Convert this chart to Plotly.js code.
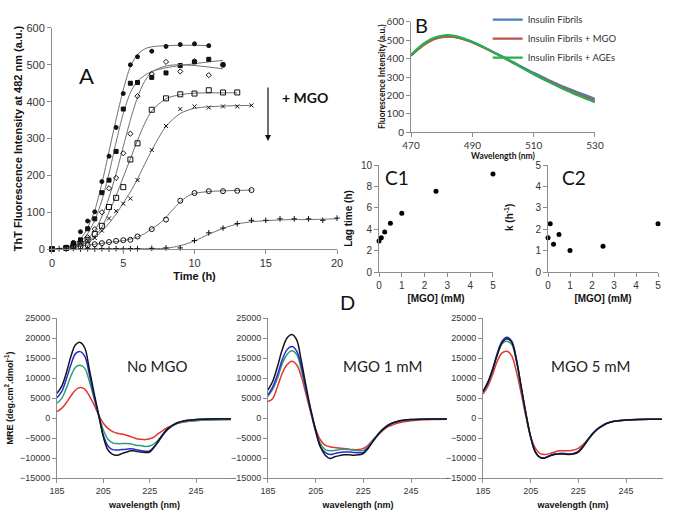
<!DOCTYPE html>
<html>
<head>
<meta charset="utf-8">
<script src="https://cdn.plot.ly/plotly-3.0.1.min.js"></script>
<style>
  html, body { margin: 0; padding: 0; background: #fff; }
  #chart { width: 685px; height: 521px; }
</style>
</head>
<body>
<div id="chart"></div>
<script>
// ---------- Panel A : ThT kinetics ----------
const tFilledCircle = [0, 1, 1.5, 2, 2.5, 3, 3.5, 4, 4.5, 5, 5.5, 6, 7, 8, 9, 10, 11];
const vFilledCircle = [0, 5, 18, 47, 76, 101, 183, 252, 330, 422, 500, 522, 537, 550, 555, 557, 552];
const fitTFilledCircle = [0, 1, 2, 2.5, 3, 3.5, 4, 4.5, 5, 5.5, 6, 6.5, 7, 8, 9, 10, 11];
const fitVFilledCircle = [0, 3, 28, 58, 105, 178, 265, 352, 432, 495, 528, 543, 549, 552, 553, 553, 552];

const tFilledSquare = [0, 1, 1.5, 2, 2.5, 3, 3.5, 4, 4.5, 5, 5.5, 6, 7, 8, 9, 10, 11, 12];
const vFilledSquare = [0, 4, 15, 25, 55, 82, 153, 187, 265, 380, 450, 452, 466, 478, 498, 508, 515, 500];
const fitTFilledSquare = [0, 1, 2, 2.5, 3, 3.5, 4, 4.5, 5, 5.5, 6, 7, 8, 9, 10, 11, 12];
const fitVFilledSquare = [0, 3, 20, 42, 78, 132, 205, 290, 368, 424, 456, 482, 492, 498, 503, 508, 512];

const tDiamond = [0, 1, 1.5, 2, 2.5, 3, 3.5, 4, 4.5, 5, 5.5, 6, 7, 8, 9, 10, 11, 12];
const vDiamond = [0, 3, 10, 20, 32, 54, 100, 165, 193, 260, 313, 415, 475, 508, 482, 510, 472, 500];
const fitTDiamond = [0, 1, 2, 2.5, 3, 3.5, 4, 4.5, 5, 5.5, 6, 6.5, 7, 8, 9, 10, 11, 12];
const fitVDiamond = [0, 3, 15, 28, 50, 88, 140, 205, 278, 350, 412, 455, 480, 497, 500, 498, 494, 489];

const tOpenSquare = [0, 1, 1.5, 2, 2.5, 3, 3.5, 4, 4.5, 5, 5.5, 6, 7, 8, 9, 10, 11, 12, 13];
const vOpenSquare = [0, 3, 8, 15, 25, 41, 63, 114, 139, 168, 243, 287, 378, 409, 420, 422, 431, 425, 425];
const fitTOpenSquare = [0, 1, 2, 3, 3.5, 4, 4.5, 5, 5.5, 6, 6.5, 7, 8, 9, 10, 11, 12, 13];
const fitVOpenSquare = [0, 2, 10, 35, 60, 100, 145, 195, 245, 295, 340, 375, 408, 419, 423, 424, 424, 424];

const tCross = [0, 1, 1.5, 2, 2.5, 3, 3.5, 4, 4.5, 5, 5.5, 6, 7, 8, 9, 10, 11, 12, 13, 14];
const vCross = [0, 2, 8, 18, 22, 30, 50, 83, 103, 123, 137, 187, 269, 334, 380, 387, 384, 387, 387, 390];
const fitTCross = [0, 1, 2, 3, 4, 4.5, 5, 5.5, 6, 6.5, 7, 7.5, 8, 9, 10, 11, 12, 13, 14];
const fitVCross = [0, 2, 10, 30, 70, 95, 125, 155, 190, 230, 268, 303, 333, 368, 382, 386, 388, 389, 390];

const tOpenCircle = [0, 1, 1.5, 2, 2.5, 3, 3.5, 4, 4.5, 5, 5.5, 6, 7, 8, 9, 10, 11, 12, 13, 14];
const vOpenCircle = [0, 3, 5, 7, 10, 13, 16, 19, 22, 24, 25, 34, 54, 80, 131, 152, 157, 157, 158, 160];
const fitTOpenCircle = [0, 1, 2, 3, 4, 5, 5.5, 6, 6.5, 7, 7.5, 8, 8.5, 9, 9.5, 10, 11, 12, 13, 14];
const fitVOpenCircle = [0, 3, 8, 13, 18, 23, 27, 33, 42, 55, 68, 86, 108, 128, 143, 151, 156, 158, 159, 160];

const tPlus = [0, 0.5, 1, 1.5, 2, 2.5, 3, 3.5, 4, 4.5, 5, 5.5, 6, 7, 8, 9, 10, 11, 12, 13, 14, 15, 16, 17, 18, 19, 20];
const vPlus = [0, 1, 0, 2, 0, 1, 0, 1, 0, 1, 0, 1, 1, 2, 3, 3, 23, 44, 57, 69, 78, 78, 82, 82, 82, 78, 84];
const fitTPlus = [0, 2, 4, 6, 8, 8.5, 9, 9.5, 10, 11, 12, 13, 14, 15, 16, 17, 18, 19, 20];
const fitVPlus = [0, 0, 1, 1, 2, 5, 9, 15, 22, 40, 56, 68, 74, 77, 79, 80, 80, 81, 82];

// ---------- Panel B : emission spectra ----------
const wavelengthB = [470, 472, 474, 476, 478, 480, 482, 484, 486, 488, 490, 495, 500, 505, 510, 515, 520, 525, 530];
const fibrils = [418, 448, 475, 496, 510, 518, 521, 519, 512, 502, 490, 452, 410, 366, 323, 283, 245, 212, 181];
const fibrilsMGO = [416, 446, 473, 494, 509, 517, 520, 518, 511, 501, 489, 450, 407, 362, 318, 277, 238, 203, 170];
const fibrilsAGEs = [420, 452, 480, 502, 517, 525, 528, 525, 517, 505, 492, 452, 408, 362, 315, 272, 232, 196, 162];
const legendB = ['Insulin Fibrils', 'Insulin Fibrils + MGO', 'Insulin Fibrils + AGEs'];

// ---------- Panel C : lag time and rate vs MGO ----------
const mgo = [0, 0.1, 0.25, 0.5, 1, 2.5, 5];
const lagTime = [2.9, 3.2, 3.75, 4.55, 5.5, 7.55, 9.15];
const rateK = [1.6, 2.25, 1.3, 1.75, 1.0, 1.2, 2.25];

// ---------- Panel D : CD spectra ----------
const wavelengthD = [185, 187, 189, 191, 193, 195, 197, 199, 201, 203, 205, 207, 209, 211, 213, 215, 217, 219, 221, 223, 225, 227, 229, 231, 233, 235, 237, 240, 245, 250, 255, 260];

const noMgoBlack = [6200, 7900, 11200, 15400, 18300, 18900, 17500, 12000, 6200, 750, -4700, -8000, -9100, -9300, -8900, -8500, -8200, -8300, -8500, -8600, -8500, -7200, -5500, -3800, -2600, -1800, -1200, -700, -400, -250, -200, -200];
const noMgoBlue = [5100, 6600, 9700, 13300, 16100, 16600, 15400, 10800, 5400, 500, -4300, -7000, -7900, -8000, -7900, -7800, -7700, -7900, -8100, -8300, -8200, -7200, -5700, -4000, -2700, -1800, -1200, -700, -400, -250, -200, -200];
const noMgoGreen = [3700, 4900, 7400, 10500, 12700, 13200, 12400, 9100, 4900, 750, -3000, -5300, -6200, -6400, -6400, -6400, -6500, -6800, -6900, -7100, -7000, -6400, -5300, -4000, -2800, -1900, -1300, -900, -600, -500, -450, -400];
const noMgoRed = [1600, 2400, 3800, 5500, 7000, 7600, 7200, 5500, 3300, 750, -1300, -2600, -3400, -3800, -4000, -4300, -4700, -5100, -5300, -5400, -5200, -4700, -3800, -3000, -2300, -1800, -1300, -1000, -700, -500, -400, -350];

const mgo1Black = [7000, 9200, 12900, 17100, 20000, 20900, 19600, 14200, 7900, 2000, -3000, -7200, -9300, -10100, -9700, -9400, -9200, -9200, -9300, -9200, -8900, -7600, -5900, -4300, -3000, -2000, -1300, -750, -400, -300, -250, -250];
const mgo1Blue = [5800, 7800, 10800, 14600, 17100, 17900, 16800, 12900, 7000, 1600, -3400, -7200, -8600, -9100, -8900, -8600, -8500, -8500, -8600, -8700, -8600, -7400, -5800, -4200, -2900, -1900, -1300, -750, -400, -300, -250, -250];
const mgo1Green = [5400, 7200, 10000, 13600, 15900, 16800, 15900, 12000, 6600, 1600, -3300, -6400, -7900, -8200, -8100, -7900, -7800, -7900, -8000, -8200, -8100, -7200, -5600, -4100, -2900, -1900, -1300, -800, -450, -300, -250, -250];
const mgo1Red = [4100, 4900, 7900, 11200, 13300, 14200, 13300, 10400, 5800, 1200, -2800, -5500, -6800, -7200, -7400, -7500, -7600, -7800, -7900, -7900, -7600, -6800, -5500, -4300, -3200, -2300, -1800, -1200, -700, -450, -350, -300];

const mgo5Black = [6600, 8800, 12000, 15900, 18800, 19800, 19000, 14600, 7900, 1200, -4700, -8500, -9900, -10000, -9500, -9100, -9000, -9000, -9100, -9000, -8500, -7200, -5500, -4000, -2800, -2000, -1300, -800, -500, -350, -300, -300];
const mgo5Blue = [6700, 8900, 12200, 16200, 19200, 20200, 19300, 14700, 7800, 1000, -4800, -8600, -9900, -9900, -9400, -9000, -8900, -8900, -9000, -8900, -8400, -7100, -5400, -3900, -2700, -1900, -1300, -800, -500, -350, -300, -300];
const mgo5Green = [6500, 8700, 11900, 15700, 18600, 19200, 18400, 14200, 7600, 1000, -4800, -8500, -9800, -9900, -9400, -9000, -8900, -8900, -9000, -8800, -8300, -7000, -5400, -3900, -2700, -1900, -1300, -800, -500, -350, -300, -300];
const mgo5Red = [6000, 7900, 10800, 14200, 16300, 16700, 15600, 11600, 6200, 300, -4700, -7600, -8900, -9100, -8900, -8500, -8200, -8200, -8200, -8000, -7600, -6600, -5300, -3900, -2800, -2000, -1300, -800, -500, -350, -300, -300];

const cdColors = ['#151515', '#2a2ad6', '#2f9f73', '#e5352f'];

// ---------- build traces ----------
const traces = [];

function kineticSeries(t, v, fitT, fitV, symbol, size) {
  traces.push({
    x: fitT, y: fitV, xaxis: 'x', yaxis: 'y', type: 'scatter', mode: 'lines',
    line: {color: '#6e6e6e', width: 1, shape: 'spline', smoothing: 0.8},
    hoverinfo: 'skip', showlegend: false
  });
  traces.push({
    x: t, y: v, xaxis: 'x', yaxis: 'y', type: 'scatter', mode: 'markers',
    marker: {symbol: symbol, size: size, color: '#111', line: {color: '#111', width: 1}},
    cliponaxis: false, showlegend: false
  });
}

kineticSeries(tFilledCircle, vFilledCircle, fitTFilledCircle, fitVFilledCircle, 'circle', 4);
kineticSeries(tFilledSquare, vFilledSquare, fitTFilledSquare, fitVFilledSquare, 'square', 4);
kineticSeries(tDiamond, vDiamond, fitTDiamond, fitVDiamond, 'diamond-open', 4);
kineticSeries(tOpenSquare, vOpenSquare, fitTOpenSquare, fitVOpenSquare, 'square-open', 5);
kineticSeries(tCross, vCross, fitTCross, fitVCross, 'x-thin-open', 4);
kineticSeries(tOpenCircle, vOpenCircle, fitTOpenCircle, fitVOpenCircle, 'circle-open', 5);
kineticSeries(tPlus, vPlus, fitTPlus, fitVPlus, 'cross-thin-open', 4);

// panel B
const bColors = ['#4a7ebb', '#c0504d', '#22b14c'];
[fibrils, fibrilsMGO, fibrilsAGEs].forEach((ys, i) => {
  traces.push({
    x: wavelengthB, y: ys, xaxis: 'x2', yaxis: 'y2', type: 'scatter', mode: 'lines',
    name: legendB[i], line: {color: bColors[i], width: 2.2, shape: 'spline'}
  });
});

// panel C
traces.push({x: mgo, y: lagTime, xaxis: 'x3', yaxis: 'y3', type: 'scatter', mode: 'markers',
  marker: {color: '#000', size: 5}, cliponaxis: false, showlegend: false});
traces.push({x: mgo, y: rateK, xaxis: 'x4', yaxis: 'y4', type: 'scatter', mode: 'markers',
  marker: {color: '#000', size: 5}, cliponaxis: false, showlegend: false});

// panel D (red drawn first, black on top)
const cdSets = [
  ['x5', 'y5', [noMgoBlack, noMgoBlue, noMgoGreen, noMgoRed]],
  ['x6', 'y6', [mgo1Black, mgo1Blue, mgo1Green, mgo1Red]],
  ['x7', 'y7', [mgo5Black, mgo5Blue, mgo5Green, mgo5Red]]
];
cdSets.forEach(([xa, ya, sets]) => {
  [3, 2, 1, 0].forEach(i => {
    traces.push({
      x: wavelengthD, y: sets[i], xaxis: xa, yaxis: ya, type: 'scatter', mode: 'lines',
      line: {color: cdColors[i], width: 1.5, shape: 'spline'}, showlegend: false
    });
  });
});

// ---------- layout ----------
const arial = 'Liberation Sans, Arial, sans-serif';
const calibri = 'Lato, Open Sans, sans-serif';

function axisStyle(extra) {
  return Object.assign({
    showgrid: false, zeroline: false, showline: true, linecolor: '#8c8c8c', linewidth: 1,
    ticks: 'outside', ticklen: 4, tickcolor: '#8c8c8c', tickmode: 'linear',
    tickfont: {family: arial, size: 11, color: '#333'}, automargin: false
  }, extra);
}

function titleOf(text, size, font, standoff) {
  return {text: text, font: {family: font || arial, size: size, color: '#111', weight: 'bold'},
    standoff: standoff === undefined ? 4 : standoff};
}

const dTick = {family: arial, size: 9, color: '#333'};

function label(text, px, py, size, extra) {
  return Object.assign({text: text, x: px / 685, y: 1 - py / 521, xref: 'paper', yref: 'paper',
    xanchor: 'center', yanchor: 'middle', showarrow: false,
    font: {family: calibri, size: size, color: '#111'}}, extra || {});
}

const layout = {
  width: 685, height: 521,
  margin: {l: 0, r: 0, t: 0, b: 0},
  paper_bgcolor: '#fff', plot_bgcolor: 'rgba(0,0,0,0)',
  showlegend: true,
  legend: {x: 0.712, y: 0.99, xanchor: 'left', yanchor: 'top', bgcolor: 'rgba(0,0,0,0)',
    font: {family: calibri, size: 9.5, color: '#333'}, tracegroupgap: 0, itemwidth: 30},

  // A
  xaxis: axisStyle({domain: [0.0759, 0.492], range: [0, 20], tick0: 0, dtick: 5, anchor: 'y',
    title: titleOf('Time (h)', 11)}),
  yaxis: axisStyle({domain: [0.522, 0.9463], range: [0, 600], tick0: 0, dtick: 100, anchor: 'x',
    title: titleOf('ThT Fluorescence Intensity at 482 nm (a.u.)', 11, arial, 1)}),

  // B
  xaxis2: axisStyle({domain: [0.6, 0.8686], range: [470, 530], tick0: 470, dtick: 20, anchor: 'y2',
    tickfont: {family: calibri, size: 10, color: '#333'}, title: titleOf('Wavelength (nm)', 8.5, calibri, 1)}),
  yaxis2: axisStyle({domain: [0.7466, 0.9578], range: [0, 600], tick0: 0, dtick: 100, anchor: 'x2',
    tickfont: {family: calibri, size: 10, color: '#333'}}),

  // C1
  xaxis3: axisStyle({domain: [0.5533, 0.7197], range: [0, 5], tick0: 0, dtick: 1, anchor: 'y3',
    tickfont: {family: arial, size: 10, color: '#333'}, title: titleOf('[MGO] (mM)', 10)}),
  yaxis3: axisStyle({domain: [0.4779, 0.6833], range: [0, 10], tick0: 0, dtick: 2, anchor: 'x3',
    tickfont: {family: arial, size: 10, color: '#333'}, title: titleOf('Lag time (h)', 10, arial, 6)}),

  // C2
  xaxis4: axisStyle({domain: [0.8, 0.9606], range: [0, 5], tick0: 0, dtick: 1, anchor: 'y4',
    tickfont: {family: arial, size: 10, color: '#333'}, title: titleOf('[MGO] (mM)', 10)}),
  yaxis4: axisStyle({domain: [0.4779, 0.6833], range: [0, 5], tick0: 0, dtick: 1, anchor: 'x4',
    tickfont: {family: arial, size: 10, color: '#333'}}),

  // D
  xaxis5: axisStyle({domain: [0.0832, 0.3387], range: [185, 260.5], tick0: 185, dtick: 20, anchor: 'y5',
    tickfont: dTick, title: titleOf('wavelength (nm)', 9, arial, 6)}),
  yaxis5: axisStyle({domain: [0.0825, 0.3896], range: [-15000, 25000], tick0: 0, dtick: 5000, anchor: 'x5',
    tickformat: 'd', tickfont: dTick, title: titleOf('MRE (deg.cm<sup>2</sup>.dmol<sup>-1</sup>)', 9)}),
  xaxis6: axisStyle({domain: [0.3912, 0.654], range: [185, 260.5], tick0: 185, dtick: 20, anchor: 'y6',
    tickfont: dTick, title: titleOf('wavelength (nm)', 9, arial, 6)}),
  yaxis6: axisStyle({domain: [0.0825, 0.3896], range: [-15000, 25000], tick0: 0, dtick: 5000, anchor: 'x6',
    tickformat: 'd', tickfont: dTick}),
  xaxis7: axisStyle({domain: [0.7051, 0.9679], range: [185, 260.5], tick0: 185, dtick: 20, anchor: 'y7',
    tickfont: dTick, title: titleOf('wavelength (nm)', 9, arial, 6)}),
  yaxis7: axisStyle({domain: [0.0825, 0.3896], range: [-15000, 25000], tick0: 0, dtick: 5000, anchor: 'x7',
    tickformat: 'd', tickfont: dTick}),

  annotations: [
    label('A', 87, 75, 22),
    label('B', 421, 25, 20),
    label('C1', 397, 177, 19),
    label('C2', 574, 177, 19),
    label('D', 347, 302, 20),
    label('<b>+ MGO</b>', 305, 97, 14),
    {text: '', x: 268 / 685, y: 1 - 141 / 521, xref: 'paper', yref: 'paper', showarrow: true,
      ax: 0, ay: -55, arrowhead: 2, arrowsize: 1, arrowwidth: 1.2, arrowcolor: '#111'},
    // y titles of B and C2 placed by hand, closer to their tick labels
    label('<b>Fluorescence Intensity (a.u.)</b>', 382, 77, 8.5, {textangle: -90}),
    label('<b>k (h<sup>-1</sup>)</b>', 509, 218, 10, {textangle: -90,
      font: {family: arial, size: 10, color: '#111'}}),
    label('No MGO', 157, 366, 15, {font: {family: calibri, size: 15, color: '#222'}}),
    label('MGO 1 mM', 382, 366, 15, {font: {family: calibri, size: 15, color: '#222'}}),
    label('MGO 5 mM', 590, 366, 15, {font: {family: calibri, size: 15, color: '#222'}})
  ]
};

Plotly.newPlot('chart', traces, layout, {displayModeBar: false, staticPlot: true});
</script>
</body>
</html>
